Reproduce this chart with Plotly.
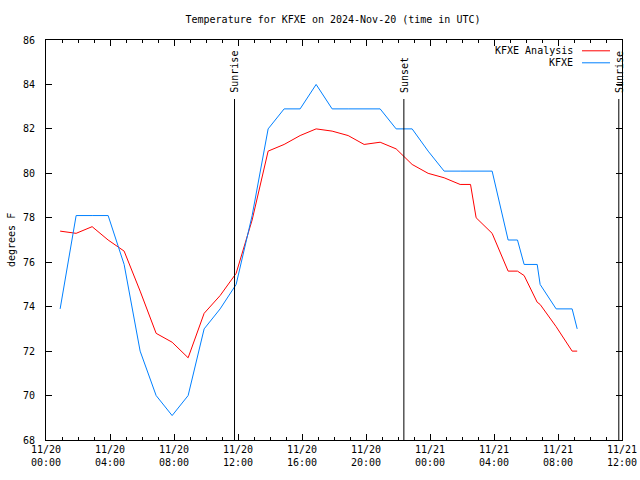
import plotly.graph_objects as go

# ---- data ----
times = [
    "2024-11-20 00:53", "2024-11-20 01:53", "2024-11-20 02:53", "2024-11-20 03:53",
    "2024-11-20 04:53", "2024-11-20 05:53", "2024-11-20 06:53", "2024-11-20 07:53",
    "2024-11-20 08:53", "2024-11-20 09:53", "2024-11-20 10:53", "2024-11-20 11:53",
    "2024-11-20 12:53", "2024-11-20 13:53", "2024-11-20 14:53", "2024-11-20 15:53",
    "2024-11-20 16:53", "2024-11-20 17:53", "2024-11-20 18:53", "2024-11-20 19:53",
    "2024-11-20 20:53", "2024-11-20 21:53", "2024-11-20 22:53", "2024-11-20 23:53",
    "2024-11-21 00:53", "2024-11-21 01:53", "2024-11-21 02:32", "2024-11-21 02:53",
    "2024-11-21 03:53", "2024-11-21 04:53", "2024-11-21 05:28", "2024-11-21 05:53",
    "2024-11-21 06:42", "2024-11-21 06:53", "2024-11-21 07:53", "2024-11-21 08:53",
    "2024-11-21 09:12",
]
kfxe_analysis = [
    77.4, 77.3, 77.6, 77.0, 76.5, 74.7, 72.8, 72.4, 71.7, 73.7, 74.5, 75.5,
    77.9, 81.0, 81.3, 81.7, 82.0, 81.9, 81.7, 81.3, 81.4, 81.1, 80.4, 80.0,
    79.8, 79.5, 79.5, 78.0, 77.3, 75.6, 75.6, 75.4, 74.2, 74.1, 73.1, 72.0, 72.0,
]
kfxe_obs = [
    73.9, 78.1, 78.1, 78.1, 75.9, 72.0, 70.0, 69.1, 70.0, 73.0, 73.9, 75.0,
    78.1, 82.0, 82.9, 82.9, 84.0, 82.9, 82.9, 82.9, 82.9, 82.0, 82.0, 81.0,
    80.1, 80.1, 80.1, 80.1, 80.1, 77.0, 77.0, 75.9, 75.9, 75.0, 73.9, 73.9, 73.0,
]
sun_labels = ["Sunrise", "Sunset", "Sunrise"]
sun_times = ["2024-11-20 11:47", "2024-11-20 22:22", "2024-11-21 11:48"]
series_names = ["KFXE Analysis", "KFXE"]
series_colors = ["#ff0000", "#0080ff"]

FONT = dict(family="DejaVu Sans Mono", size=10, color="black")

W, H = 640, 480
ML, MR, MT, MB = 46, 18, 40, 40
PW = W - ML - MR


def px_x(p):  # window pixel -> paper x
    return (p - ML) / PW


fig = go.Figure()
fig.add_trace(go.Scatter(x=times, y=kfxe_analysis, mode="lines", name=series_names[0],
                         line=dict(color=series_colors[0], width=1), showlegend=False))
fig.add_trace(go.Scatter(x=times, y=kfxe_obs, mode="lines", name=series_names[1],
                         line=dict(color=series_colors[1], width=1), showlegend=False))

for lab, t in zip(sun_labels, sun_times):
    fig.add_shape(type="line", x0=t, x1=t, xref="x", yref="paper", y0=0, y1=0.8525,
                  line=dict(color="black", width=1))
    fig.add_annotation(x=t, xref="x", y=0.862, yref="paper", text=lab, textangle=-90,
                       showarrow=False, xanchor="center", yanchor="bottom", font=FONT)

# manual legend (text then line sample, as in the reference)
leg_y = [0.973, 0.943]
for name, col, yy in zip(series_names, series_colors, leg_y):
    fig.add_annotation(x=px_x(575), xref="paper", y=yy, yref="paper", text=name,
                       showarrow=False, xanchor="right", yanchor="middle", font=FONT)
    fig.add_shape(type="line", xref="paper", yref="paper", x0=px_x(582), x1=px_x(610),
                  y0=yy, y1=yy, line=dict(color=col, width=1))

fig.add_annotation(x=px_x(11), xref="paper", y=0.5, yref="paper", text="degrees F",
                   textangle=-90, showarrow=False, xanchor="center", yanchor="middle", font=FONT)

fig.update_layout(
    width=W, height=H,
    margin=dict(l=ML, r=MR, t=MT, b=MB, autoexpand=False),
    paper_bgcolor="white", plot_bgcolor="white",
    font=FONT,
    title=dict(text="Temperature for KFXE on 2024-Nov-20 (time in UTC)", x=px_x(333),
               xref="paper", xanchor="center", y=1 - 19 / H, yanchor="middle", font=FONT),
    xaxis=dict(type="date", range=["2024-11-20 00:00", "2024-11-21 12:00"],
               tick0="2024-11-20 00:00", dtick=4 * 3600 * 1000,
               tickformat="%m/%d<br>%H:%M", ticks="inside", ticklen=6, tickcolor="black",
               showline=True, linecolor="black", linewidth=1, mirror="ticks",
               showgrid=False, zeroline=False, tickfont=FONT, automargin=False,
               ticklabeloverflow="allow",
               minor=dict(dtick=3600 * 1000, ticks="inside", ticklen=3, tickcolor="black",
                          showgrid=False)),
    yaxis=dict(range=[68, 86], dtick=2, ticks="inside", ticklen=6, tickcolor="black",
               showline=True, linecolor="black", linewidth=1, mirror="ticks",
               showgrid=False, zeroline=False, tickfont=FONT, ticklabelstandoff=8,
               automargin=False),
)

# remove the browser's default 8px page margin so the 640x480 figure fills the window
fig.write_html("out.html",
               config={"displayModeBar": False, "staticPlot": True},
               post_script="document.body.style.margin='0';document.body.style.overflow='hidden';")
